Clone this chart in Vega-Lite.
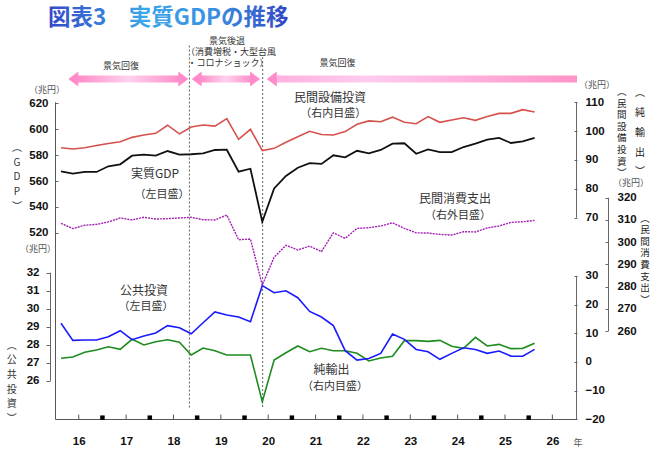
{
  "$schema": "https://vega.github.io/schema/vega-lite/v6.json",
  "width": 522,
  "height": 390,
  "autosize": {"type": "none"},
  "padding": {"left": 55, "top": 30, "right": 83, "bottom": 51},
  "background": "white",
  "config": {
    "view": {"stroke": null},
    "axis": {"grid": false, "title": null, "labelFont": "Liberation Sans", "labelFontWeight": "bold", "labelFontSize": 11.5, "labelColor": "#111", "tickColor": "#666", "domainColor": "#555"},
    "text": {"font": "Noto Sans CJK JP"}
  },
  "datasets": {
    "series": [
      {"q": "2016Q1", "t": 0, "gdp": 567.5, "capex": 94.2, "cons": 308.5, "pubinv": 29.19, "netex": 1.29},
      {"q": "2016Q2", "t": 1, "gdp": 565.7, "capex": 93.8, "cons": 306.1, "pubinv": 28.24, "netex": 1.74},
      {"q": "2016Q3", "t": 2, "gdp": 567.0, "capex": 94.2, "cons": 307.6, "pubinv": 28.26, "netex": 3.37},
      {"q": "2016Q4", "t": 3, "gdp": 567.0, "capex": 95.0, "cons": 308.0, "pubinv": 28.26, "netex": 4.18},
      {"q": "2017Q1", "t": 4, "gdp": 571.4, "capex": 95.7, "cons": 309.1, "pubinv": 28.44, "netex": 5.33},
      {"q": "2017Q2", "t": 5, "gdp": 572.9, "capex": 96.3, "cons": 310.9, "pubinv": 28.78, "netex": 4.42},
      {"q": "2017Q3", "t": 6, "gdp": 579.6, "capex": 97.8, "cons": 310.0, "pubinv": 28.28, "netex": 7.91},
      {"q": "2017Q4", "t": 7, "gdp": 580.4, "capex": 98.6, "cons": 311.2, "pubinv": 28.48, "netex": 5.92},
      {"q": "2018Q1", "t": 8, "gdp": 579.6, "capex": 99.2, "cons": 310.4, "pubinv": 28.65, "netex": 7.07},
      {"q": "2018Q2", "t": 9, "gdp": 583.2, "capex": 102.0, "cons": 310.6, "pubinv": 29.06, "netex": 7.77},
      {"q": "2018Q3", "t": 10, "gdp": 580.4, "capex": 99.0, "cons": 310.9, "pubinv": 28.94, "netex": 6.86},
      {"q": "2018Q4", "t": 11, "gdp": 580.7, "capex": 101.4, "cons": 311.2, "pubinv": 28.61, "netex": 2.44},
      {"q": "2019Q1", "t": 12, "gdp": 581.4, "capex": 102.1, "cons": 310.1, "pubinv": 29.22, "netex": 4.88},
      {"q": "2019Q2", "t": 13, "gdp": 584.0, "capex": 101.7, "cons": 310.0, "pubinv": 29.82, "netex": 3.94},
      {"q": "2019Q3", "t": 14, "gdp": 584.2, "capex": 104.3, "cons": 312.2, "pubinv": 29.65, "netex": 2.44},
      {"q": "2019Q4", "t": 15, "gdp": 567.2, "capex": 97.1, "cons": 301.1, "pubinv": 29.54, "netex": 2.44},
      {"q": "2020Q1", "t": 16, "gdp": 569.5, "capex": 100.6, "cons": 301.4, "pubinv": 29.28, "netex": 2.44},
      {"q": "2020Q2", "t": 17, "gdp": 528.5, "capex": 93.2, "cons": 280.7, "pubinv": 31.28, "netex": -13.8},
      {"q": "2020Q3", "t": 18, "gdp": 554.3, "capex": 94.0, "cons": 293.2, "pubinv": 30.89, "netex": 0.7},
      {"q": "2020Q4", "t": 19, "gdp": 563.9, "capex": 96.1, "cons": 298.6, "pubinv": 31.0, "netex": 3.24},
      {"q": "2021Q1", "t": 20, "gdp": 570.3, "capex": 98.0, "cons": 296.5, "pubinv": 30.61, "netex": 5.57},
      {"q": "2021Q2", "t": 21, "gdp": 573.8, "capex": 99.9, "cons": 298.2, "pubinv": 29.85, "netex": 3.59},
      {"q": "2021Q3", "t": 22, "gdp": 573.2, "capex": 98.8, "cons": 295.8, "pubinv": 29.54, "netex": 4.8},
      {"q": "2021Q4", "t": 23, "gdp": 579.9, "capex": 98.6, "cons": 304.2, "pubinv": 29.06, "netex": 3.94},
      {"q": "2022Q1", "t": 24, "gdp": 578.3, "capex": 99.8, "cons": 301.7, "pubinv": 27.67, "netex": 3.94},
      {"q": "2022Q2", "t": 25, "gdp": 583.4, "capex": 102.3, "cons": 306.2, "pubinv": 27.15, "netex": 3.02},
      {"q": "2022Q3", "t": 26, "gdp": 581.4, "capex": 103.5, "cons": 306.5, "pubinv": 27.24, "netex": 0.35},
      {"q": "2022Q4", "t": 27, "gdp": 584.0, "capex": 103.2, "cons": 307.3, "pubinv": 27.52, "netex": 1.39},
      {"q": "2023Q1", "t": 28, "gdp": 588.9, "capex": 104.8, "cons": 308.7, "pubinv": 28.59, "netex": 1.97},
      {"q": "2023Q2", "t": 29, "gdp": 589.2, "capex": 103.0, "cons": 306.2, "pubinv": 28.3, "netex": 7.43},
      {"q": "2023Q3", "t": 30, "gdp": 581.1, "capex": 102.5, "cons": 304.2, "pubinv": 27.74, "netex": 7.43},
      {"q": "2023Q4", "t": 31, "gdp": 584.5, "capex": 105.0, "cons": 304.1, "pubinv": 27.61, "netex": 7.2},
      {"q": "2024Q1", "t": 32, "gdp": 582.4, "capex": 103.0, "cons": 303.5, "pubinv": 27.19, "netex": 7.55},
      {"q": "2024Q2", "t": 33, "gdp": 582.4, "capex": 103.8, "cons": 303.2, "pubinv": 27.52, "netex": 5.46},
      {"q": "2024Q3", "t": 34, "gdp": 586.3, "capex": 104.6, "cons": 304.7, "pubinv": 27.83, "netex": 4.76},
      {"q": "2024Q4", "t": 35, "gdp": 588.9, "capex": 103.7, "cons": 304.6, "pubinv": 27.74, "netex": 8.6},
      {"q": "2025Q1", "t": 36, "gdp": 592.0, "capex": 105.0, "cons": 306.4, "pubinv": 27.52, "netex": 5.57},
      {"q": "2025Q2", "t": 37, "gdp": 593.3, "capex": 106.1, "cons": 307.3, "pubinv": 27.65, "netex": 6.15},
      {"q": "2025Q3", "t": 38, "gdp": 589.4, "capex": 106.1, "cons": 308.9, "pubinv": 27.37, "netex": 4.65},
      {"q": "2025Q4", "t": 39, "gdp": 590.7, "capex": 107.4, "cons": 309.2, "pubinv": 27.36, "netex": 4.76},
      {"q": "2026Q1", "t": 40, "gdp": 593.3, "capex": 106.6, "cons": 309.8, "pubinv": 27.74, "netex": 6.5}
    ],
    "yearMarks": [
      {"t": 3.5}, {"t": 7.5}, {"t": 11.5}, {"t": 15.5}, {"t": 19.5},
      {"t": 23.5}, {"t": 27.5}, {"t": 31.5}, {"t": 35.5}, {"t": 39.5}
    ],
    "yearTicks": [
      {"t": 1.5}, {"t": 5.5}, {"t": 9.5}, {"t": 13.5}, {"t": 17.5}, {"t": 21.5},
      {"t": 25.5}, {"t": 29.5}, {"t": 33.5}, {"t": 37.5}, {"t": 41.5}
    ],
    "frame": [
      {"t1": -0.465, "t2": -0.465, "v1": 620.9, "v2": 375.48},
      {"t1": -0.465, "t2": 43.58, "v1": 375.48, "v2": 375.48}
    ],
    "pubinvAxis": [{"t": -0.887, "v1": 32, "v2": 26}],
    "capexAxis": [{"t": 43.54, "v1": 110, "v2": 70}],
    "netexAxis": [{"t": 43.54, "v1": 30, "v2": -20.0}],
    "consAxis": [{"t": 46.24, "v1": 320, "v2": 260}],
    "phases": [
      {"t": 10.84, "top": 664.8, "bottom": 384.4},
      {"t": 17.03, "top": 655.9, "bottom": 384.4}
    ],
    "shaftsBoth": [
      {"t1": 1.35, "t2": 10.05},
      {"t1": 11.74, "t2": 16.13}
    ],
    "shaftsRight": [
      {"t1": 18.16, "t2": 43.58}
    ],
    "headsLeft": [{"t": 1.04}, {"t": 11.46}, {"t": 17.8}],
    "headsRight": [{"t": 10.33}, {"t": 16.39}],
    "title": [
      {"label": "図表3　実質GDPの推移", "t": -1.1, "v": 686.1}
    ],
    "phaseNotes": [
      {"label": "景気回復", "t": 5.07, "v": 649.0},
      {"label": "景気後退", "t": 14.02, "v": 668.3},
      {"label": "（消費増税・大型台風", "t": 14.36, "v": 659.8},
      {"label": "・コロナショック）", "t": 14.1, "v": 651.3},
      {"label": "景気回復", "t": 23.35, "v": 651.3}
    ],
    "seriesNames": [
      {"label": "民間設備投資", "t": 22.72, "v": 624.6},
      {"label": "実質GDP", "t": 7.94, "v": 565.2},
      {"label": "民間消費支出", "t": 33.28, "v": 545.9},
      {"label": "公共投資", "t": 7.01, "v": 474.7},
      {"label": "純輸出", "t": 22.85, "v": 413.6}
    ],
    "scaleNotes": [
      {"label": "（右内目盛）", "t": 23.0, "v": 611.8},
      {"label": "（左目盛）", "t": 8.53, "v": 549.3},
      {"label": "（右外目盛）", "t": 33.53, "v": 533.1},
      {"label": "（左目盛）", "t": 7.18, "v": 462.7},
      {"label": "（右内目盛）", "t": 23.14, "v": 400.8}
    ],
    "units": [
      {"label": "（兆円）", "t": -1.18, "v": 630.4},
      {"label": "（兆円）", "t": -1.94, "v": 507.4},
      {"label": "（兆円）", "t": 45.27, "v": 634.3},
      {"label": "（兆円）", "t": 48.14, "v": 558.1},
      {"label": "年", "t": 43.67, "v": 357.3}
    ],
    "verticalLeft": [
      {"label": "︵\nG\nD\nP\n︶", "t": -3.72, "v": 589.2},
      {"label": "︵\n公\n共\n投\n資\n︶", "t": -4.16, "v": 436.4}
    ],
    "verticalTight": [
      {"label": "︵\n民\n間\n設\n備\n投\n資\n︶", "t": 47.36, "v": 632.8},
      {"label": "︵\n民\n間\n消\n費\n支\n出\n︶", "t": 49.32, "v": 534.8}
    ],
    "verticalWide": [
      {"label": "︵\n純\n輸\n出\n︶", "t": 48.9, "v": 631.7}
    ]
  },
  "resolve": {"scale": {"y": "independent"}, "axis": {"x": "independent", "y": "independent"}},
  "layer": [
    {
      "mark": {"type": "point", "shape": "M-1,0L0,-1L1,0L0,1Z", "filled": true, "size": 529, "opacity": 1, "stroke": "#7cc0dc", "strokeWidth": 0.8,
        "fill": {"gradient": "linear", "x1": 0, "y1": 0, "x2": 1, "y2": 1, "stops": [{"offset": 0, "color": "#d6f1fa"}, {"offset": 1, "color": "#8ccfe8"}]}},
      "encoding": {
        "x": {"datum": -3.55, "type": "quantitative", "scale": {"domain": [-0.507, 43.58], "nice": false, "zero": false}, "axis": null},
        "y": {"datum": 688.4, "type": "quantitative", "scale": {"domain": [375.09, 676.83], "nice": false, "zero": false}, "axis": null}
      }
    },
    {
      "data": {"name": "title"},
      "mark": {"type": "text", "align": "left", "baseline": "middle", "fontSize": 22.5, "fontWeight": "bold",
        "fill": {"gradient": "linear", "x1": 0, "y1": 0, "x2": 1, "y2": 0, "stops": [{"offset": 0, "color": "#3348c8"}, {"offset": 0.4, "color": "#3aa6ea"}, {"offset": 0.7, "color": "#3a8ee0"}, {"offset": 1, "color": "#3346c6"}]}},
      "encoding": {
        "x": {"field": "t", "type": "quantitative", "scale": {"domain": [-0.507, 43.58], "nice": false, "zero": false}, "axis": null},
        "y": {"field": "v", "type": "quantitative", "scale": {"domain": [375.09, 676.83], "nice": false, "zero": false}, "axis": null},
        "text": {"field": "label"}
      }
    },
    {
      "data": {"name": "phaseNotes"},
      "mark": {"type": "text", "align": "center", "baseline": "middle", "fontSize": 9, "color": "#333"},
      "encoding": {
        "x": {"field": "t", "type": "quantitative", "scale": {"domain": [-0.507, 43.58], "nice": false, "zero": false}, "axis": null},
        "y": {"field": "v", "type": "quantitative", "scale": {"domain": [375.09, 676.83], "nice": false, "zero": false}, "axis": null},
        "text": {"field": "label"}
      }
    },
    {
      "data": {"name": "shaftsBoth"},
      "mark": {"type": "rect",
        "fill": {"gradient": "linear", "x1": 0, "y1": 0, "x2": 1, "y2": 0, "stops": [{"offset": 0, "color": "#ff8cc8"}, {"offset": 0.5, "color": "#ffd2ee"}, {"offset": 1, "color": "#ff8cc8"}]}},
      "encoding": {
        "x": {"field": "t1", "type": "quantitative", "scale": {"domain": [-0.507, 43.58], "nice": false, "zero": false}, "axis": null},
        "x2": {"field": "t2"},
        "y": {"datum": 641.6, "type": "quantitative", "scale": {"domain": [375.09, 676.83], "nice": false, "zero": false}, "axis": null},
        "y2": {"datum": 636.2}
      }
    },
    {
      "data": {"name": "shaftsRight"},
      "mark": {"type": "rect",
        "fill": {"gradient": "linear", "x1": 0, "y1": 0, "x2": 1, "y2": 0, "stops": [{"offset": 0, "color": "#ffb0de"}, {"offset": 0.3, "color": "#ffccef"}, {"offset": 1, "color": "#ff93c8"}]}},
      "encoding": {
        "x": {"field": "t1", "type": "quantitative", "scale": {"domain": [-0.507, 43.58], "nice": false, "zero": false}, "axis": null},
        "x2": {"field": "t2"},
        "y": {"datum": 641.6, "type": "quantitative", "scale": {"domain": [375.09, 676.83], "nice": false, "zero": false}, "axis": null},
        "y2": {"datum": 636.2}
      }
    },
    {
      "data": {"name": "headsLeft"},
      "mark": {"type": "point", "shape": "M0.67,-1L-0.67,0L0.67,1Z", "filled": true, "size": 225, "color": "#ff8cc8", "opacity": 1},
      "encoding": {
        "x": {"field": "t", "type": "quantitative", "scale": {"domain": [-0.507, 43.58], "nice": false, "zero": false}, "axis": null},
        "y": {"datum": 638.9, "type": "quantitative", "scale": {"domain": [375.09, 676.83], "nice": false, "zero": false}, "axis": null}
      }
    },
    {
      "data": {"name": "headsRight"},
      "mark": {"type": "point", "shape": "M-0.67,-1L0.67,0L-0.67,1Z", "filled": true, "size": 225, "color": "#ff8cc8", "opacity": 1},
      "encoding": {
        "x": {"field": "t", "type": "quantitative", "scale": {"domain": [-0.507, 43.58], "nice": false, "zero": false}, "axis": null},
        "y": {"datum": 638.9, "type": "quantitative", "scale": {"domain": [375.09, 676.83], "nice": false, "zero": false}, "axis": null}
      }
    },
    {
      "data": {"name": "phases"},
      "mark": {"type": "rule", "color": "#333", "strokeWidth": 0.8, "strokeDash": [2, 2]},
      "encoding": {
        "x": {"field": "t", "type": "quantitative", "scale": {"domain": [-0.507, 43.58], "nice": false, "zero": false}, "axis": null},
        "y": {"field": "top", "type": "quantitative", "scale": {"domain": [375.09, 676.83], "nice": false, "zero": false}, "axis": null},
        "y2": {"field": "bottom"}
      }
    },
    {
      "data": {"name": "seriesNames"},
      "mark": {"type": "text", "align": "center", "baseline": "middle", "fontSize": 12, "color": "#333"},
      "encoding": {
        "x": {"field": "t", "type": "quantitative", "scale": {"domain": [-0.507, 43.58], "nice": false, "zero": false}, "axis": null},
        "y": {"field": "v", "type": "quantitative", "scale": {"domain": [375.09, 676.83], "nice": false, "zero": false}, "axis": null},
        "text": {"field": "label"}
      }
    },
    {
      "data": {"name": "scaleNotes"},
      "mark": {"type": "text", "align": "center", "baseline": "middle", "fontSize": 11, "color": "#333"},
      "encoding": {
        "x": {"field": "t", "type": "quantitative", "scale": {"domain": [-0.507, 43.58], "nice": false, "zero": false}, "axis": null},
        "y": {"field": "v", "type": "quantitative", "scale": {"domain": [375.09, 676.83], "nice": false, "zero": false}, "axis": null},
        "text": {"field": "label"}
      }
    },
    {
      "data": {"name": "units"},
      "mark": {"type": "text", "align": "center", "baseline": "middle", "fontSize": 9, "color": "#555"},
      "encoding": {
        "x": {"field": "t", "type": "quantitative", "scale": {"domain": [-0.507, 43.58], "nice": false, "zero": false}, "axis": null},
        "y": {"field": "v", "type": "quantitative", "scale": {"domain": [375.09, 676.83], "nice": false, "zero": false}, "axis": null},
        "text": {"field": "label"}
      }
    },
    {
      "data": {"name": "verticalLeft"},
      "mark": {"type": "text", "align": "center", "baseline": "top", "fontSize": 10, "color": "#333", "lineBreak": "\n", "lineHeight": 14.6},
      "encoding": {
        "x": {"field": "t", "type": "quantitative", "scale": {"domain": [-0.507, 43.58], "nice": false, "zero": false}, "axis": null},
        "y": {"field": "v", "type": "quantitative", "scale": {"domain": [375.09, 676.83], "nice": false, "zero": false}, "axis": null},
        "text": {"field": "label"}
      }
    },
    {
      "data": {"name": "verticalTight"},
      "mark": {"type": "text", "align": "center", "baseline": "top", "fontSize": 9.5, "color": "#222", "lineBreak": "\n", "lineHeight": 11.6},
      "encoding": {
        "x": {"field": "t", "type": "quantitative", "scale": {"domain": [-0.507, 43.58], "nice": false, "zero": false}, "axis": null},
        "y": {"field": "v", "type": "quantitative", "scale": {"domain": [375.09, 676.83], "nice": false, "zero": false}, "axis": null},
        "text": {"field": "label"}
      }
    },
    {
      "data": {"name": "verticalWide"},
      "mark": {"type": "text", "align": "center", "baseline": "top", "fontSize": 10, "color": "#222", "lineBreak": "\n", "lineHeight": 19.75},
      "encoding": {
        "x": {"field": "t", "type": "quantitative", "scale": {"domain": [-0.507, 43.58], "nice": false, "zero": false}, "axis": null},
        "y": {"field": "v", "type": "quantitative", "scale": {"domain": [375.09, 676.83], "nice": false, "zero": false}, "axis": null},
        "text": {"field": "label"}
      }
    },
    {
      "data": {"name": "frame"},
      "mark": {"type": "rule", "color": "#555", "strokeWidth": 1},
      "encoding": {
        "x": {"field": "t1", "type": "quantitative", "scale": {"domain": [-0.507, 43.58], "nice": false, "zero": false}, "axis": null},
        "x2": {"field": "t2"},
        "y": {"field": "v1", "type": "quantitative", "scale": {"domain": [375.09, 676.83], "nice": false, "zero": false}, "axis": null},
        "y2": {"field": "v2"}
      }
    },
    {
      "data": {"name": "yearTicks"},
      "mark": {"type": "rule", "color": "#555", "strokeWidth": 1},
      "encoding": {
        "x": {"field": "t", "type": "quantitative", "scale": {"domain": [-0.507, 43.58], "nice": false, "zero": false}, "axis": null},
        "y": {"datum": 375.48, "type": "quantitative", "scale": {"domain": [375.09, 676.83], "nice": false, "zero": false}, "axis": null},
        "y2": {"datum": 379.3}
      }
    },
    {
      "data": {"name": "pubinvAxis"},
      "mark": {"type": "rule", "color": "#666", "strokeWidth": 1},
      "encoding": {
        "x": {"field": "t", "type": "quantitative", "scale": {"domain": [-0.507, 43.58], "nice": false, "zero": false}, "axis": null},
        "y": {"field": "v1", "type": "quantitative", "scale": {"domain": [23.82, 45.48], "nice": false, "zero": false}, "axis": null},
        "y2": {"field": "v2"}
      }
    },
    {
      "data": {"name": "capexAxis"},
      "mark": {"type": "rule", "color": "#666", "strokeWidth": 1},
      "encoding": {
        "x": {"field": "t", "type": "quantitative", "scale": {"domain": [-0.507, 43.58], "nice": false, "zero": false}, "axis": null},
        "y": {"field": "v1", "type": "quantitative", "scale": {"domain": [0, 134.95], "nice": false, "zero": false}, "axis": null},
        "y2": {"field": "v2"}
      }
    },
    {
      "data": {"name": "netexAxis"},
      "mark": {"type": "rule", "color": "#666", "strokeWidth": 1},
      "encoding": {
        "x": {"field": "t", "type": "quantitative", "scale": {"domain": [-0.507, 43.58], "nice": false, "zero": false}, "axis": null},
        "y": {"field": "v1", "type": "quantitative", "scale": {"domain": [-20.21, 115.68], "nice": false, "zero": false}, "axis": null},
        "y2": {"field": "v2"}
      }
    },
    {
      "data": {"name": "consAxis"},
      "mark": {"type": "rule", "color": "#666", "strokeWidth": 1},
      "encoding": {
        "x": {"field": "t", "type": "quantitative", "scale": {"domain": [-0.507, 43.58], "nice": false, "zero": false}, "axis": null},
        "y": {"field": "v1", "type": "quantitative", "scale": {"domain": [219.95, 395.5], "nice": false, "zero": false}, "axis": null},
        "y2": {"field": "v2"}
      }
    },
    {
      "data": {"name": "yearMarks"},
      "mark": {"type": "point", "shape": "square", "filled": true, "size": 20, "color": "#000", "opacity": 1},
      "encoding": {
        "x": {"field": "t", "type": "quantitative", "scale": {"domain": [-0.507, 43.58], "nice": false, "zero": false}, "axis": null},
        "y": {"datum": 376.9, "type": "quantitative", "scale": {"domain": [375.09, 676.83], "nice": false, "zero": false}, "axis": null}
      }
    },
    {
      "data": {"name": "series"},
      "mark": {"type": "line", "color": "#a020b0", "strokeWidth": 1.4, "strokeDash": [2, 1]},
      "encoding": {
        "x": {"field": "t", "type": "quantitative", "scale": {"domain": [-0.507, 43.58], "nice": false, "zero": false}, "axis": null},
        "y": {"field": "cons", "type": "quantitative", "scale": {"domain": [219.95, 395.5], "nice": false, "zero": false},
          "axis": {"orient": "right", "offset": 31, "values": [260, 270, 280, 290, 300, 310, 320], "domain": false, "tickSize": -3, "labelPadding": 12}}
      }
    },
    {
      "data": {"name": "series"},
      "mark": {"type": "line", "color": "#d6504c", "strokeWidth": 1.6},
      "encoding": {
        "x": {"field": "t", "type": "quantitative", "scale": {"domain": [-0.507, 43.58], "nice": false, "zero": false}, "axis": null},
        "y": {"field": "capex", "type": "quantitative", "scale": {"domain": [0, 134.95], "nice": false, "zero": false},
          "axis": {"orient": "right", "values": [70, 80, 90, 100, 110], "domain": false, "tickSize": -3, "labelPadding": 11}}
      }
    },
    {
      "data": {"name": "series"},
      "mark": {"type": "line", "color": "#111", "strokeWidth": 1.8},
      "encoding": {
        "x": {"field": "t", "type": "quantitative", "scale": {"domain": [-0.507, 43.58], "nice": false, "zero": false},
          "axis": {"orient": "bottom", "values": [1.5, 5.5, 9.5, 13.5, 17.5, 21.5, 25.5, 29.5, 33.5, 37.5, 41.5], "labelExpr": "format(16 + (datum.value - 1.5) / 4, 'd')", "domain": false, "ticks": false, "tickSize": 0, "labelPadding": 15}},
        "y": {"field": "gdp", "type": "quantitative", "scale": {"domain": [375.09, 676.83], "nice": false, "zero": false},
          "axis": {"orient": "left", "values": [520, 540, 560, 580, 600, 620], "domain": false, "tickSize": -3, "labelPadding": 10}}
      }
    },
    {
      "data": {"name": "series"},
      "mark": {"type": "line", "color": "#1e8c1e", "strokeWidth": 1.6},
      "encoding": {
        "x": {"field": "t", "type": "quantitative", "scale": {"domain": [-0.507, 43.58], "nice": false, "zero": false}, "axis": null},
        "y": {"field": "netex", "type": "quantitative", "scale": {"domain": [-20.21, 115.68], "nice": false, "zero": false},
          "axis": {"orient": "right", "values": [-20, -10, 0, 10, 20, 30], "domain": false, "tickSize": -3, "labelPadding": 11}}
      }
    },
    {
      "data": {"name": "series"},
      "mark": {"type": "line", "color": "#1a1aff", "strokeWidth": 1.6},
      "encoding": {
        "x": {"field": "t", "type": "quantitative", "scale": {"domain": [-0.507, 43.58], "nice": false, "zero": false}, "axis": null},
        "y": {"field": "pubinv", "type": "quantitative", "scale": {"domain": [23.82, 45.48], "nice": false, "zero": false},
          "axis": {"orient": "left", "offset": 5, "values": [26, 27, 28, 29, 30, 31, 32], "domain": false, "tickSize": 4, "labelPadding": 7}}
      }
    }
  ]
}
